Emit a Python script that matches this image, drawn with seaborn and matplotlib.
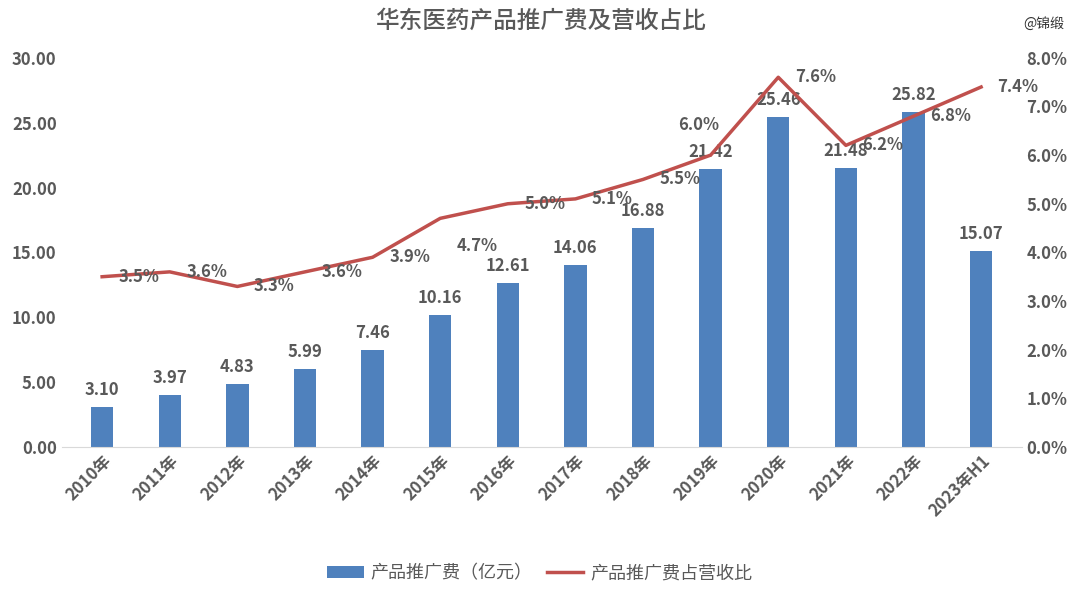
import numpy as np
import pandas as pd
import matplotlib.pyplot as plt
import seaborn as sns

plt.rcParams['font.family'] = ['Noto Sans CJK JP', 'Noto Sans CJK SC', 'DejaVu Sans']

years = ['2010年', '2011年', '2012年', '2013年', '2014年', '2015年', '2016年',
         '2017年', '2018年', '2019年', '2020年', '2021年', '2022年', '2023年H1']
spend = [3.10, 3.97, 4.83, 5.99, 7.46, 10.16, 12.61, 14.06, 16.88, 21.42, 25.46, 21.48, 25.82, 15.07]
ratio = [3.5, 3.6, 3.3, 3.6, 3.9, 4.7, 5.0, 5.1, 5.5, 6.0, 7.6, 6.2, 6.8, 7.4]

bar_c = '#4F81BD'
line_c = '#C0504D'
txt_c = '#595959'

df = pd.DataFrame({'year': years, 'spend': spend, 'ratio': ratio})

fig = plt.figure(figsize=(10.8, 5.96), dpi=100)
ax = fig.add_axes([0.057, 0.25, 0.889, 0.653])
sns.barplot(data=df, x='year', y='spend', color=bar_c, width=0.33, ax=ax,
            saturation=1, label='产品推广费（亿元）')
ax.set_ylim(0, 30)
ax.set_yticks(np.arange(0, 30.1, 5))
ax.set_yticklabels([f'{v:.2f}' for v in np.arange(0, 30.1, 5)])
ax.set_xlabel('')
ax.set_ylabel('')
for s in ['top', 'right', 'left']:
    ax.spines[s].set_visible(False)
ax.spines['bottom'].set_color('#D9D9D9')
ax.tick_params(length=0, labelsize=12, colors=txt_c)
plt.setp(ax.get_xticklabels(), rotation=45, ha='right', rotation_mode='anchor', fontweight='bold')
plt.setp(ax.get_yticklabels(), fontweight='bold')
for i, v in enumerate(spend):
    ax.annotate(f'{v:.2f}', (i, v), xytext=(0, 8), textcoords='offset pixels',
                ha='center', va='bottom', fontsize=12, fontweight='bold', color=txt_c)

ax2 = ax.twinx()
sns.lineplot(x=np.arange(len(years)), y=ratio, color=line_c, linewidth=2.5, ax=ax2,
             label='产品推广费占营收比')
ax2.set_ylim(0, 8)
ax2.set_yticks(np.arange(0, 8.1, 1))
ax2.set_yticklabels([f'{v:.1f}%' for v in np.arange(0, 8.1, 1)])
for s in ax2.spines.values():
    s.set_visible(False)
ax2.tick_params(length=0, labelsize=12, colors=txt_c)
plt.setp(ax2.get_yticklabels(), fontweight='bold')
ax2.set_xlim(-0.6, len(years) - 0.4)
ax.set_xlim(-0.6, len(years) - 0.4)
for i, v in enumerate(ratio):
    dx, dy = 37, 0
    if i == 5:
        dy = -28
    if i == 9:
        dx, dy = -12, 30
    ax2.annotate(f'{v:.1f}%', (i, v), xytext=(dx, dy), textcoords='offset pixels',
                 ha='center', va='center', fontsize=12, fontweight='bold', color=txt_c)

h1, l1 = ax.get_legend_handles_labels()
h2, l2 = ax2.get_legend_handles_labels()
ax2.get_legend().remove()
if ax.get_legend():
    ax.get_legend().remove()
fig.legend(h1 + h2, l1 + l2, loc='center', bbox_to_anchor=(0.5, 0.038), ncol=2,
           frameon=False, fontsize=13, labelcolor=txt_c, handlelength=2.0,
           handletextpad=0.4, columnspacing=0.8)

fig.text(0.5, 0.965, '华东医药产品推广费及营收占比', ha='center', va='center',
         fontsize=17, color=txt_c, fontweight='medium')
fig.text(0.985, 0.96, '@锦缎', ha='right', va='center', fontsize=10, color='#333333')

fig.savefig('out.png', dpi=100)
